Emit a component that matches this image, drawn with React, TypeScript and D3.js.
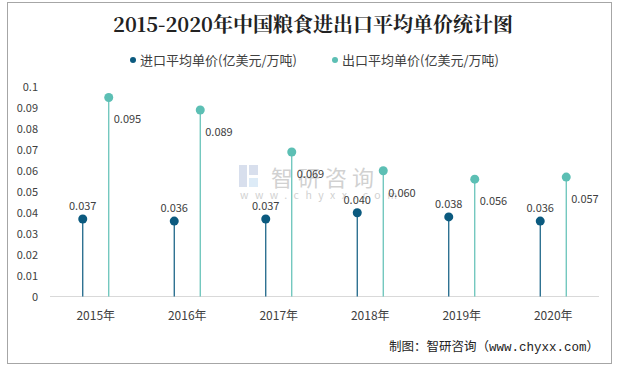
import React from "react";
import * as d3 from "d3";

const years = ["2015年", "2016年", "2017年", "2018年", "2019年", "2020年"];
const importPrice = [0.037, 0.036, 0.037, 0.04, 0.038, 0.036];
const exportPrice = [0.095, 0.089, 0.069, 0.06, 0.056, 0.057];
const yTicks = [0, 0.01, 0.02, 0.03, 0.04, 0.05, 0.06, 0.07, 0.08, 0.09, 0.1];
const seriesNames = ["进口平均单价(亿美元/万吨)", "出口平均单价(亿美元/万吨)"];

const W = 619;
const H = 368;
const importColor = "#0b5a7f";
const exportColor = "#5cbfb4";
const font = "'Microsoft YaHei', 'Noto Sans CJK SC', 'Noto Sans', sans-serif";

const x = d3.scaleBand().domain(years).range([50, 599]);
const y = d3.scaleLinear().domain([0, 0.1]).range([296.5, 87]);

const App = () => {
    const cx = (i: number) => (x(years[i]) as number) + x.bandwidth() / 2;
    return (
        <div style={{ position: "absolute", left: 0, top: 0 }}>
            <svg width={W} height={H} style={{ display: "block" }}>
                <rect x={0} y={0} width={W} height={H} fill="#fff" />
                <rect x={7.5} y={2.5} width={604} height={361} fill="none" stroke="#a6a6a6" />

                <text x={313} y={32} textAnchor="middle" fontSize={20} fontWeight="bold"
                    fontFamily="'Noto Serif CJK SC', 'DejaVu Serif', serif" fill="#222">
                    2015-2020年中国粮食进出口平均单价统计图
                </text>

                {/* legend */}
                <circle cx={133} cy={60} r={3} fill={importColor} />
                <text x={140} y={64.5} fontSize={13} fontFamily={font} fill="#404040">{seriesNames[0]}</text>
                <circle cx={335} cy={60} r={3} fill={exportColor} />
                <text x={342} y={64.5} fontSize={13} fontFamily={font} fill="#404040">{seriesNames[1]}</text>

                {/* watermark */}
                <g opacity={0.45}>
                    <rect x={239} y={165} width={8} height={22} fill="#a9b9d8" />
                    <rect x={249} y={165} width={9} height={10} fill="#a9b9d8" />
                    <rect x={249} y={178} width={9} height={9} fill="#b6d4ee" />
                    <text x={271} y={186} fontSize={22} fontFamily={font} fill="#9a9a9a" letterSpacing={5}>智研咨询</text>
                    <text x={240} y={199} fontSize={10.5} fontFamily={font} fill="#9a9a9a" letterSpacing={6.5}>www.chyxx.com</text>
                </g>

                {/* y axis labels */}
                {yTicks.map((t) => (
                    <text key={t} x={38} y={y(t) + 4} textAnchor="end" fontSize={11} fontFamily={font} fill="#404040">
                        {t === 0 ? "0" : d3.format(".2~f")(t)}
                    </text>
                ))}

                {/* baseline */}
                <line x1={50} x2={599} y1={y(0)} y2={y(0)} stroke="#d9d9d9" strokeWidth={1} />

                {years.map((yr, i) => {
                    const xi = cx(i) - 13;
                    const xe = cx(i) + 13;
                    return (
                        <g key={yr}>
                            <line x1={xi} x2={xi} y1={y(0)} y2={y(importPrice[i])} stroke={importColor} strokeWidth={1.2} />
                            <circle cx={xi} cy={y(importPrice[i])} r={4.5} fill={importColor} />
                            <text x={xi} y={y(importPrice[i]) - 9} textAnchor="middle" fontSize={11} fontFamily={font} fill="#404040">
                                {d3.format(".3f")(importPrice[i])}
                            </text>
                            <line x1={xe} x2={xe} y1={y(0)} y2={y(exportPrice[i])} stroke={exportColor} strokeWidth={1.2} />
                            <circle cx={xe} cy={y(exportPrice[i])} r={4.5} fill={exportColor} />
                            <text x={xe + 5} y={y(exportPrice[i]) + 26} fontSize={11} fontFamily={font} fill="#404040">
                                {d3.format(".3f")(exportPrice[i])}
                            </text>
                            <text x={cx(i)} y={320} textAnchor="middle" fontSize={12} fontFamily={font} fill="#404040">
                                {yr}
                            </text>
                        </g>
                    );
                })}

                <text x={599} y={351} textAnchor="end" fontSize={12.5} fill="#222"
                    fontFamily="'Liberation Mono', 'DejaVu Sans Mono', 'Noto Sans CJK SC', monospace">
                    制图：智研咨询（www.chyxx.com）
                </text>
            </svg>
        </div>
    );
};

export default App;
